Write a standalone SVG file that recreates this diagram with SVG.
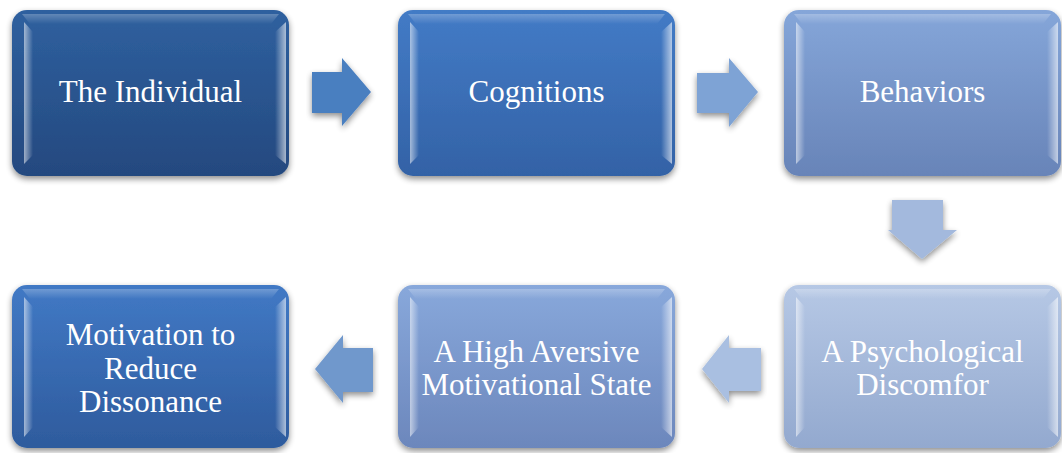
<svg xmlns="http://www.w3.org/2000/svg" width="1062" height="453" viewBox="0 0 1062 453">
<style>
.lbl{font-family:'Liberation Serif','DejaVu Serif',serif;font-size:31px;fill:#ffffff;text-anchor:middle}
.bl{fill:url(#bevL)}
.br{fill:url(#bevR)}
.bt{fill:url(#bevT)}
.sh{filter:url(#shadow)}
</style>
<defs>
<filter id="shadow" x="-10%" y="-10%" width="120%" height="130%">
<feGaussianBlur in="SourceAlpha" stdDeviation="3"/>
<feOffset dy="3" result="b"/>
<feComponentTransfer><feFuncA type="linear" slope="0.45"/></feComponentTransfer>
<feMerge><feMergeNode/><feMergeNode in="SourceGraphic"/></feMerge>
</filter>
<linearGradient id="bevL" x1="0" y1="0" x2="1" y2="0">
<stop offset="0" stop-color="#fff" stop-opacity="0.55"/>
<stop offset="1" stop-color="#fff" stop-opacity="0"/>
</linearGradient>
<linearGradient id="bevR" x1="0" y1="0" x2="1" y2="0">
<stop offset="0" stop-color="#fff" stop-opacity="0"/>
<stop offset="1" stop-color="#fff" stop-opacity="0.6"/>
</linearGradient>
<linearGradient id="bevT" x1="0" y1="0" x2="0" y2="1">
<stop offset="0" stop-color="#fff" stop-opacity="0.25"/>
<stop offset="1" stop-color="#fff" stop-opacity="0"/>
</linearGradient>
<linearGradient id="g1" x1="0" y1="0" x2="0" y2="1"><stop offset="0" stop-color="#2f609f"/><stop offset="1" stop-color="#24497f"/></linearGradient>
<linearGradient id="g2" x1="0" y1="0" x2="0" y2="1"><stop offset="0" stop-color="#437bc6"/><stop offset="1" stop-color="#3362a6"/></linearGradient>
<linearGradient id="g3" x1="0" y1="0" x2="0" y2="1"><stop offset="0" stop-color="#85a6d9"/><stop offset="1" stop-color="#6884b8"/></linearGradient>
<linearGradient id="g4" x1="0" y1="0" x2="0" y2="1"><stop offset="0" stop-color="#b6c8e5"/><stop offset="1" stop-color="#93a9cf"/></linearGradient>
<linearGradient id="g5" x1="0" y1="0" x2="0" y2="1"><stop offset="0" stop-color="#88a8db"/><stop offset="1" stop-color="#6c87bc"/></linearGradient>
<linearGradient id="g6" x1="0" y1="0" x2="0" y2="1"><stop offset="0" stop-color="#4179c5"/><stop offset="1" stop-color="#2e5b9d"/></linearGradient>
</defs>

<g id="connectors">
<polygon class="sh" fill="#4a7fc0" points="312,72 342,72 342,58 371,92 342,126 342,113 312,113"/>
<polygon class="sh" fill="#7ea3d5" points="697,73 729,73 729,58 758,92 729,127 729,113 697,113"/>
<polygon class="sh" fill="#a3b9dd" points="892,200 943,200 943,230 957,230 922,259 888,230 892,230"/>
<polygon class="sh" fill="#a9bfe1" points="761,348 729,348 729,335 702,369 729,403 729,391 761,391"/>
<polygon class="sh" fill="#7098cc" points="373,348 343,348 343,335 315,369 343,403 343,392 373,392"/>
</g>

<g id="node-individual">
<rect class="sh" x="12" y="10" width="277" height="166" rx="15" fill="url(#g1)"/>
<polygon class="bt" points="22,14 279,14 271,24 30,24"/>
<polygon class="bl" points="24,22 33,32 33,155 24,164"/>
<polygon class="br" points="275,32 286,22 286,164 275,155"/>
<text class="lbl" x="150.5" y="102" font-family="Liberation Serif, serif">The Individual</text>
</g>

<g id="node-cognitions">
<rect class="sh" x="398" y="10" width="277" height="166" rx="15" fill="url(#g2)"/>
<polygon class="bt" points="408,14 665,14 657,24 416,24"/>
<polygon class="bl" points="410,22 419,32 419,155 410,164"/>
<polygon class="br" points="661,32 672,22 672,164 661,155"/>
<text class="lbl" x="536.5" y="102" font-family="Liberation Serif, serif">Cognitions</text>
</g>

<g id="node-behaviors">
<rect class="sh" x="784" y="10" width="277" height="166" rx="15" fill="url(#g3)"/>
<polygon class="bt" points="794,14 1051,14 1043,24 802,24"/>
<polygon class="bl" points="796,22 805,32 805,155 796,164"/>
<polygon class="br" points="1047,32 1058,22 1058,164 1047,155"/>
<text class="lbl" x="922.5" y="102" font-family="Liberation Serif, serif">Behaviors</text>
</g>

<g id="node-discomfort">
<rect class="sh" x="784" y="285" width="277" height="163" rx="15" fill="url(#g4)"/>
<polygon class="bt" points="794,289 1051,289 1043,299 802,299"/>
<polygon class="bl" points="796,297 805,307 805,427 796,437"/>
<polygon class="br" points="1047,307 1058,297 1058,437 1047,427"/>
<text class="lbl" x="922.5" y="362" font-family="Liberation Serif, serif">A Psychological</text>
<text class="lbl" x="922.5" y="395" font-family="Liberation Serif, serif">Discomfor</text>
</g>

<g id="node-aversive">
<rect class="sh" x="398" y="285" width="277" height="163" rx="15" fill="url(#g5)"/>
<polygon class="bt" points="408,289 665,289 657,299 416,299"/>
<polygon class="bl" points="410,297 419,307 419,427 410,437"/>
<polygon class="br" points="661,307 672,297 672,437 661,427"/>
<text class="lbl" x="536.5" y="362" font-family="Liberation Serif, serif">A High Aversive</text>
<text class="lbl" x="536.5" y="395" font-family="Liberation Serif, serif">Motivational State</text>
</g>

<g id="node-motivation">
<rect class="sh" x="12" y="285" width="277" height="163" rx="15" fill="url(#g6)"/>
<polygon class="bt" points="22,289 279,289 271,299 30,299"/>
<polygon class="bl" points="24,297 33,307 33,427 24,437"/>
<polygon class="br" points="275,307 286,297 286,437 275,427"/>
<text class="lbl" x="150.5" y="345" font-family="Liberation Serif, serif">Motivation to</text>
<text class="lbl" x="150.5" y="379" font-family="Liberation Serif, serif">Reduce</text>
<text class="lbl" x="150.5" y="412" font-family="Liberation Serif, serif">Dissonance</text>
</g>
</svg>
